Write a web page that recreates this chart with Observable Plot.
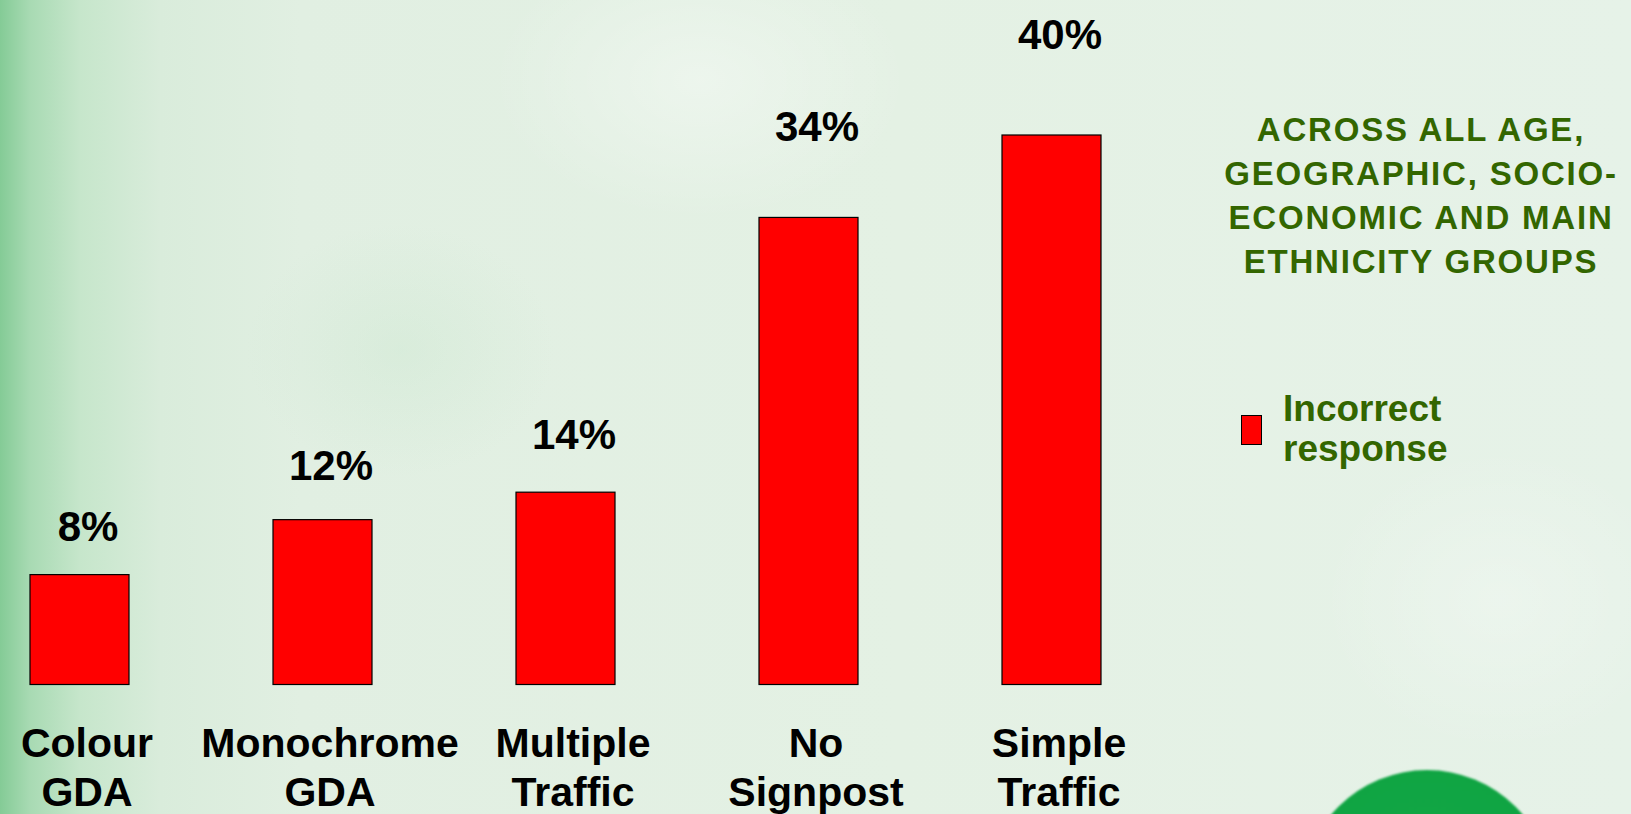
<!DOCTYPE html>
<html>
<head>
<meta charset="utf-8">
<script src="https://cdn.jsdelivr.net/npm/d3@7"></script>
<script src="https://cdn.jsdelivr.net/npm/@observablehq/plot@0.6"></script>
<style>
  html, body { margin: 0; padding: 0; }
  body {
    width: 1631px; height: 814px; overflow: hidden; position: relative;
    font-family: "Liberation Sans", Arial, Helvetica, sans-serif;
    background:
      radial-gradient(ellipse 300px 200px at 700px 80px, rgba(255,255,255,0.35), rgba(255,255,255,0) 70%),
      radial-gradient(ellipse 260px 220px at 1500px 600px, rgba(255,255,255,0.25), rgba(255,255,255,0) 70%),
      radial-gradient(ellipse 220px 180px at 400px 350px, rgba(200,230,205,0.35), rgba(200,230,205,0) 70%),
      linear-gradient(to right, #84cb96 0px, #a8dab3 30px, #c6e6cb 80px, #d9ecdb 160px, #e1efe2 300px, #e4f1e4 900px, #e6f2e8 1631px);
  }
  #chart { position: absolute; left: 0; top: 0; }
  #title {
    position: absolute; left: 1201px; top: 108px; width: 440px;
    text-align: center; color: #336600; font-weight: bold;
    font-size: 33px; letter-spacing: 1.8px; line-height: 44px;
  }
  #legend { position: absolute; left: 1241px; top: 389px; }
  #legend .swatch {
    position: absolute; left: 0; top: 26px; width: 19px; height: 28px;
    background: #ff0000; border: 1.5px solid #000;
  }
  #legend .label {
    position: absolute; left: 42px; top: 0; white-space: nowrap;
    color: #336600; font-weight: bold; font-size: 37px; line-height: 40px;
  }
  #button {
    position: absolute; left: 1302px; top: 770px; width: 250px; height: 250px;
    border-radius: 50%;
    background: radial-gradient(circle at 50% 45%, #12a846 0%, #10a443 72%, #2fc160 78%, #0e8f38 84%, #0a6f2a 100%);
    filter: blur(0.8px);
  }
</style>
</head>
<body>
<div id="chart"></div>
<div id="title">ACROSS ALL AGE,<br>GEOGRAPHIC, SOCIO-<br>ECONOMIC AND MAIN<br>ETHNICITY GROUPS</div>
<div id="legend"><div class="swatch"></div><div class="label">Incorrect<br>response</div></div>
<div id="button"></div>
<script>
const categories = ["Colour GDA", "Monochrome GDA", "Multiple Traffic", "No Signpost", "Simple Traffic"];
const tickLabels = ["Colour\nGDA", "Monochrome\nGDA", "Multiple\nTraffic", "No\nSignpost", "Simple\nTraffic"];
const values = [8, 12, 14, 34, 40];

const data = categories.map((c, i) => ({category: c, value: values[i]}));
const labelOf = new Map(categories.map((c, i) => [c, tickLabels[i]]));

const chart = Plot.plot({
  width: 1631,
  height: 814,
  marginTop: 135,
  marginBottom: 129.5,
  marginLeft: 29.5,
  marginRight: 529.4,
  style: {background: "transparent", fontFamily: "'Liberation Sans', Arial, sans-serif", overflow: "visible"},
  x: {domain: categories, paddingInner: 0.593, paddingOuter: 0, align: 0.5, axis: null},
  y: {domain: [0, 40], axis: null},
  marks: [
    Plot.barY(data, {x: "category", y: "value", fill: "#ff0000", stroke: "#000", strokeWidth: 1.2}),
    Plot.text(data, {
      x: "category",
      y: d => d.value * 1.12 + 1.5,
      text: d => d.value + "%",
      lineAnchor: "bottom",
      dx: 8,
      fontSize: 42,
      fontWeight: "bold",
      fill: "#000"
    }),
    Plot.axisX({
      tickSize: 0,
      tickPadding: 37,
      tickFormat: d => labelOf.get(d),
      fontSize: 41,
      fontWeight: "bold",
      lineHeight: 1.2,
      dx: 7,
      fill: "#000",
      label: null
    })
  ]
});
document.getElementById("chart").appendChild(chart);
</script>
</body>
</html>
